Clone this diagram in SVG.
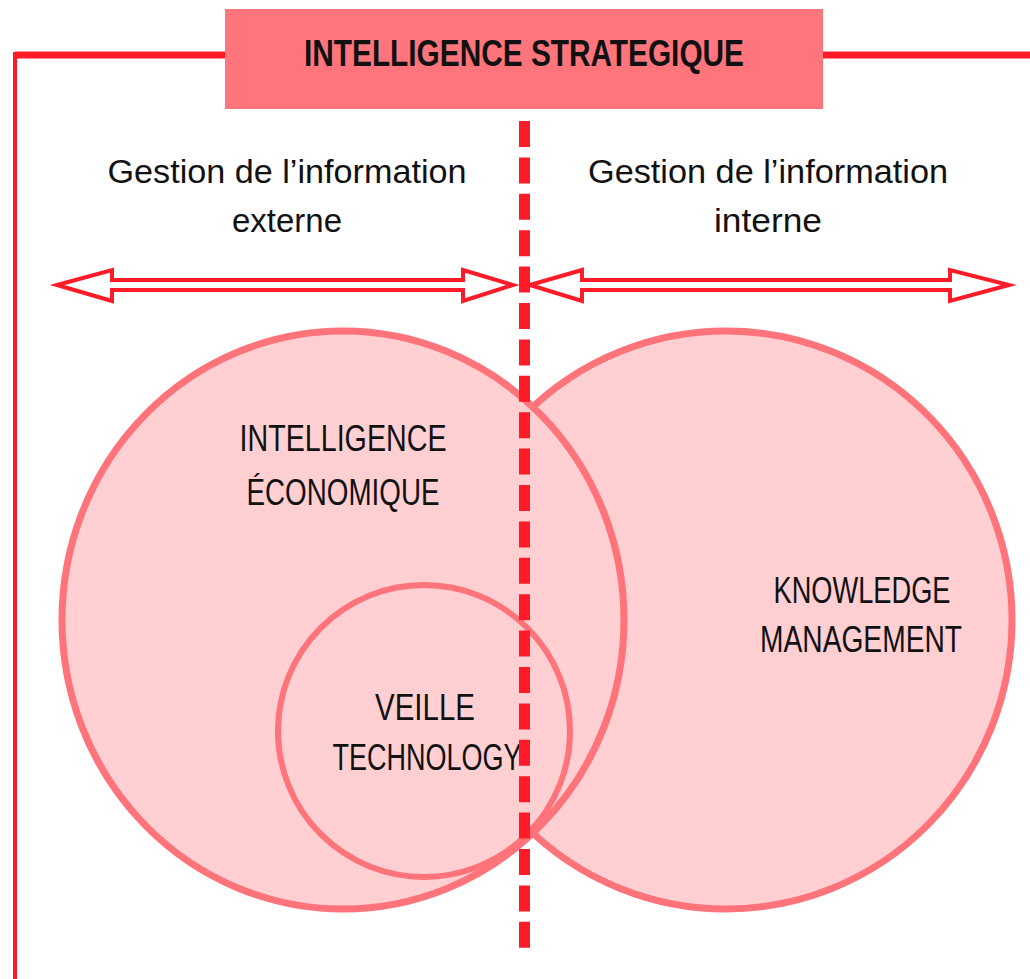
<svg xmlns="http://www.w3.org/2000/svg" width="1030" height="979" viewBox="0 0 1030 979">
  <style>
    .frame { stroke: #ff1b27; fill: none; }
    .zone { fill: #ffcfd2; stroke: #ff737a; stroke-width: 7; }
    .arrow { fill: #ffffff; stroke: #ff1b27; stroke-width: 4; stroke-linejoin: miter; }
    .divider { stroke: #ff1b27; stroke-width: 11; stroke-dasharray: 26 10.4; fill: none; }
    .cap { font-family: "Liberation Sans", "DejaVu Sans", sans-serif; font-size: 36px; fill: #111111; text-anchor: middle; }
    .head { font-weight: bold; }
    .sub { font-family: "Liberation Sans", "DejaVu Sans", sans-serif; font-size: 34px; fill: #111111; text-anchor: middle; }
  </style>

  <!-- outer frame lines -->
  <g id="frame">
    <line class="frame" x1="15" y1="55" x2="225" y2="55" stroke-width="7"/>
    <line class="frame" x1="823" y1="55" x2="1030" y2="55" stroke-width="7"/>
    <line class="frame" x1="15" y1="52" x2="15" y2="979" stroke-width="4"/>
  </g>

  <!-- title -->
  <g id="title">
    <rect x="225" y="9" width="598" height="100" fill="#ff757b"/>
    <text class="cap head" x="524" y="66" textLength="440" lengthAdjust="spacingAndGlyphs">INTELLIGENCE STRATEGIQUE</text>
  </g>

  <!-- column headings -->
  <g id="heading-externe">
    <text class="sub" x="287" y="183" textLength="359" lengthAdjust="spacingAndGlyphs">Gestion de l’information</text>
    <text class="sub" x="287" y="232" textLength="110" lengthAdjust="spacingAndGlyphs">externe</text>
  </g>
  <g id="heading-interne">
    <text class="sub" x="768" y="183" textLength="360" lengthAdjust="spacingAndGlyphs">Gestion de l’information</text>
    <text class="sub" x="768" y="232" textLength="108" lengthAdjust="spacingAndGlyphs">interne</text>
  </g>

  <!-- zones -->
  <g id="knowledge-management">
    <ellipse class="zone" cx="726" cy="620" rx="286" ry="289"/>
    <text class="cap" x="862" y="603" textLength="177" lengthAdjust="spacingAndGlyphs">KNOWLEDGE</text>
    <text class="cap" x="861" y="652" textLength="202" lengthAdjust="spacingAndGlyphs">MANAGEMENT</text>
  </g>
  <g id="intelligence-economique">
    <ellipse class="zone" cx="343" cy="620" rx="281" ry="289"/>
    <text class="cap" x="343" y="451" textLength="207" lengthAdjust="spacingAndGlyphs">INTELLIGENCE</text>
    <text class="cap" x="343" y="505" textLength="193" lengthAdjust="spacingAndGlyphs">ÉCONOMIQUE</text>
  </g>
  <g id="veille-technology">
    <circle class="zone" cx="424" cy="731" r="146" style="stroke-width:6"/>
    <text class="cap" x="425" y="720" textLength="100" lengthAdjust="spacingAndGlyphs">VEILLE</text>
    <text class="cap" x="427" y="770" textLength="189" lengthAdjust="spacingAndGlyphs">TECHNOLOGY</text>
  </g>

  <!-- connectors: divider and double arrows -->
  <g id="connectors">
    <line class="divider" x1="524.5" y1="121" x2="524.5" y2="948"/>
    <polygon class="arrow" points="57,285 112,270 112,280 463,280 463,270 513,285 463,301 463,290 112,290 112,301"/>
    <polygon class="arrow" points="530,285 582,270 582,280 950,280 950,270 1009,285 950,301 950,290 582,290 582,301"/>
  </g>
</svg>
